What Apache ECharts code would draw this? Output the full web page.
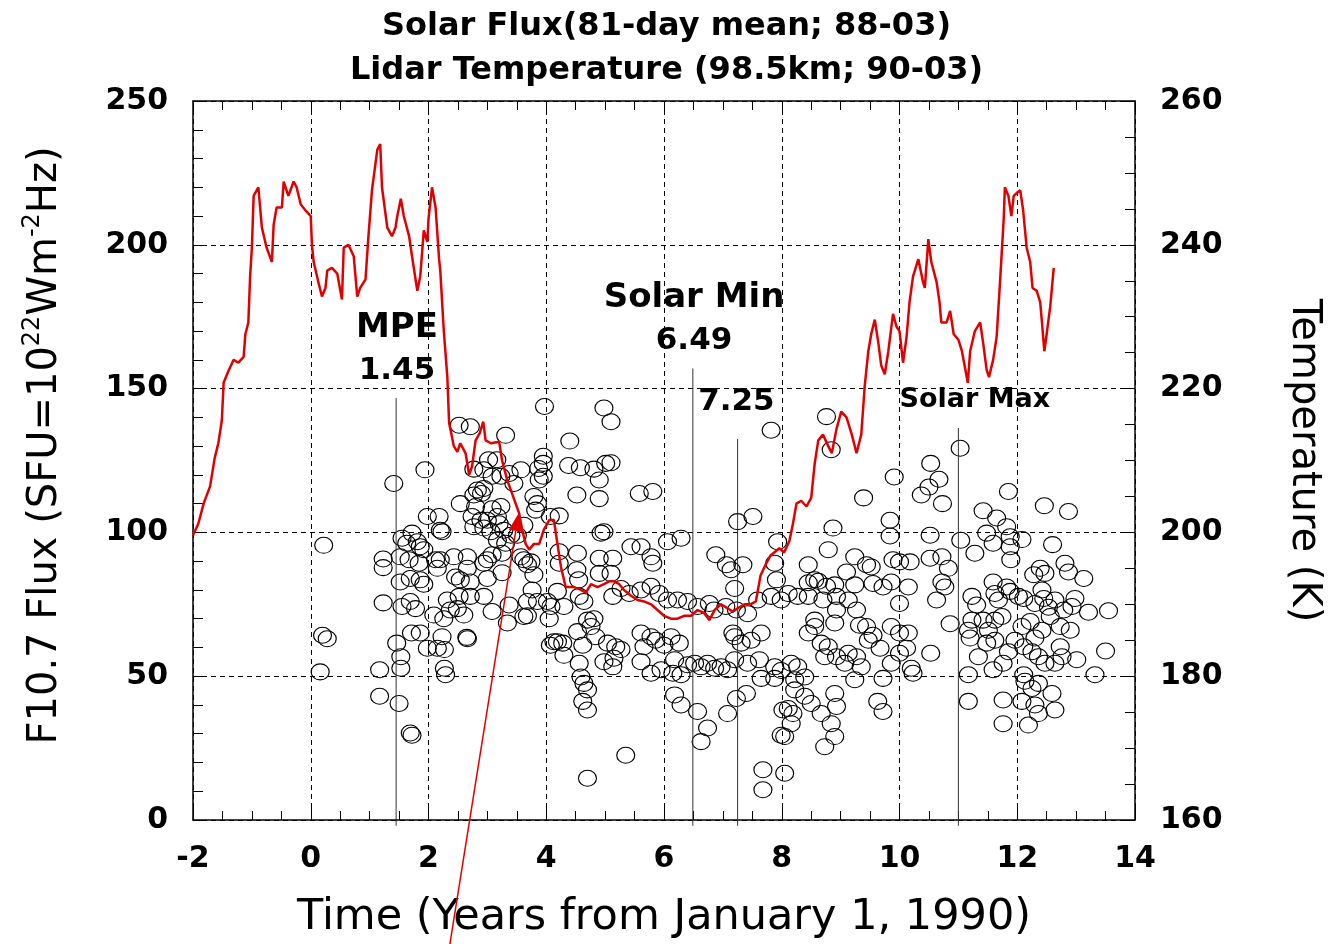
<!DOCTYPE html>
<html>
<head>
<meta charset="utf-8">
<title>Solar Flux and Lidar Temperature</title>
<script src="https://cdn.jsdelivr.net/npm/echarts@6/dist/echarts.min.js"></script>
<style>
  html, body { margin: 0; padding: 0; background: #fff; }
  #chart { width: 1333px; height: 944px; }
</style>
</head>
<body>
<div id="chart"></div>
<script>
// ---- data -------------------------------------------------------------
// F10.7 solar flux, 81-day running mean (years from 1990-01-01, SFU)
const fluxMean = [
  [-2.0,99],[-1.91,103],[-1.82,110],[-1.71,116],[-1.63,126],[-1.57,131],[-1.51,139],[-1.48,152],
  [-1.40,156],[-1.31,160],[-1.23,159],[-1.14,161],[-1.11,169],[-1.06,173],[-1.03,189],[-1.0,199],
  [-0.97,217],[-0.89,220],[-0.83,206],[-0.75,199],[-0.66,194],[-0.63,207],[-0.58,213],[-0.49,213],
  [-0.46,222],[-0.38,217],[-0.29,222],[-0.24,220],[-0.17,214],[-0.09,212],[0.0,210],[0.02,200],
  [0.05,194],[0.13,187],[0.19,182],[0.25,185],[0.28,191],[0.36,192],[0.45,190],[0.53,181],
  [0.56,199],[0.64,200],[0.73,196],[0.79,182],[0.84,185],[0.93,188],[0.98,203],[1.04,219],
  [1.13,233],[1.18,235],[1.21,220],[1.30,206],[1.38,203],[1.44,206],[1.47,210],[1.53,216],
  [1.58,210],[1.67,203],[1.72,196],[1.81,184],[1.86,189],[1.92,205],[1.98,201],[2.0,209],
  [2.06,220],[2.12,213],[2.18,195],[2.20,191],[2.26,170],[2.32,154],[2.35,138],[2.43,130],
  [2.49,128],[2.54,131],[2.63,127.5],[2.69,120],[2.74,123],[2.80,132],[2.87,134.5],[2.93,138.5],
  [2.97,132],[3.06,131],[3.20,131.5],[3.25,125],[3.34,118],[3.42,113.5],[3.54,106.6],[3.59,101],
  [3.65,96],[3.71,94],[3.79,96],[3.88,96],[3.96,101],[4.05,104.3],[4.13,104.3],[4.19,96],
  [4.25,88],[4.33,81],[4.38,81],[4.47,81],[4.59,80],[4.67,79],[4.76,82],[4.87,81],
  [4.98,82],[5.07,83],[5.15,83],[5.24,82],[5.32,80],[5.44,78],[5.55,76.5],[5.66,76],
  [5.78,75],[5.89,73],[6.0,71],[6.12,70],[6.23,70],[6.34,71],[6.46,71],[6.57,73],
  [6.68,72],[6.77,69.5],[6.86,73],[6.97,75],[7.08,73.6],[7.17,72.4],[7.25,73.6],[7.37,75],
  [7.47,75],[7.56,76],[7.64,85],[7.73,89],[7.81,92],[7.96,94.5],[8.04,93],[8.13,97],
  [8.19,103],[8.25,110],[8.33,111],[8.42,109],[8.50,112],[8.56,124],[8.62,132],[8.70,134],
  [8.79,130],[8.85,127.5],[8.93,136],[9.01,142],[9.10,140],[9.19,134],[9.27,127.5],[9.35,134],
  [9.41,151],[9.47,163],[9.52,169],[9.58,174],[9.64,166],[9.69,158],[9.75,155],[9.81,163],
  [9.89,176],[9.95,171.5],[10.0,170],[10.06,159],[10.12,168],[10.17,180],[10.23,189],[10.32,195],
  [10.40,187],[10.43,185],[10.49,202],[10.54,194],[10.63,187],[10.68,180],[10.71,173],[10.80,173],
  [10.86,177],[10.92,169],[11.0,167],[11.06,163],[11.12,156.5],[11.16,152],[11.20,163],[11.28,170],
  [11.37,173],[11.42,166],[11.48,156.5],[11.52,154],[11.59,160],[11.65,168],[11.71,188],[11.77,209],
  [11.79,220],[11.85,217],[11.90,210],[11.94,217],[11.99,218],[12.05,219],[12.10,212],[12.16,199],
  [12.22,194],[12.26,185],[12.33,184],[12.39,180],[12.42,173],[12.46,163],[12.50,169],[12.56,178.5],
  [12.62,192]
];

// Lidar temperature at 98.5 km, nightly means (years from 1990-01-01, K)
const lidarEarly = [
  [0.22,198.2],[0.20,185.7],[0.28,185.2],[0.16,180.6],
  [1.41,206.8],[1.94,208.7],[3.97,217.5],[2.52,214.9],[2.71,214.7],[3.31,213.5],[4.40,212.7],
  [1.23,196.3],[1.23,195.1],[1.55,199.2],[1.72,199.9],[1.63,198.5],[1.81,198.7],[1.86,198.0],
  [1.92,197.6],[1.52,196.6],[1.67,196.2],[1.84,195.7],[1.52,193.1],[1.69,193.6],[1.86,193.4],
  [1.92,192.8],[1.23,190.2],[1.55,189.7],[1.69,190.4],[1.78,189.4],[1.71,186.0],[1.86,186.0],
  [1.46,184.6],[1.53,182.7],[1.53,181.1],[1.17,180.9],[1.17,177.2],[1.50,176.2],[1.69,172.1],
  [1.72,171.8]
];
const lidarMid1 = [
  [1.98,202.2],[2.18,202.2],[2.20,200.3],[2.23,200.1],[2.12,196.2],[2.15,195.0],[2.20,196.2],
  [2.43,196.6],[2.09,188.5],[2.26,188.0],[2.37,189.2],[2.49,189.4],[2.60,188.5],[2.32,190.6],
  [2.52,191.1],[2.71,191.1],[2.23,185.5],[1.98,183.9],[2.15,183.9],[2.27,183.7],[2.65,185.4],
  [2.66,185.2],[2.27,181.1],[2.29,180.2],
  [2.54,204.0],[2.80,203.6],[2.77,205.2],[2.90,205.4],[2.83,205.9],[2.94,206.1],[3.02,210.1],
  [3.16,210.1],[2.77,208.8],[2.94,208.7],[3.08,207.8],[3.23,207.8],[3.37,208.2],[3.57,208.7],
  [3.45,206.8],[3.08,203.3],[3.23,203.6],[2.74,202.2],[2.89,201.7],[3.00,201.7],[3.17,202.2],
  [3.20,201.2],[2.77,200.8],[2.94,200.6],[3.06,200.1],[3.28,200.3],[3.62,201.0],
  [2.66,196.6],[2.66,195.0],[2.94,195.7],[3.00,196.2],[3.08,196.9],[3.25,197.1],[3.17,198.9],
  [3.31,198.5],[3.40,199.6],[3.51,199.6],[2.46,193.8],[2.54,193.4],[2.71,193.1],[3.00,193.6],
  [3.25,194.4],[2.94,191.1],[3.08,189.0],[3.37,189.9],[3.34,187.4],
  [3.57,196.6],[3.62,196.2],[3.68,195.5],[3.74,195.9],[3.79,194.1],[3.76,192.0],[3.85,190.4],
  [3.68,190.4],[3.62,188.3],[3.68,188.4]
];
const lidarMid2 = [
  [3.95,210.6],[3.95,209.6],[3.87,208.9],[3.95,207.8],[3.88,207.3],[4.38,209.3],[4.58,209.0],
  [4.52,205.2],[3.79,205.0],[3.85,204.0],[3.82,203.1],[4.07,202.2],[4.22,202.3],[4.22,197.3],
  [4.22,195.7],[4.53,197.1],[4.52,194.8],[4.55,193.4],[4.02,190.4],[4.05,188.0],[4.08,189.7],
  [4.19,191.8],[4.30,189.7],[4.56,191.1],[4.64,190.4],[4.07,184.3],[4.13,184.8],[4.19,184.8],
  [4.28,184.6],[4.30,182.9],[4.62,184.3],[4.53,186.2],[4.56,181.8],[4.59,179.9],[4.64,179.0],
  [4.62,176.5],[4.70,175.3],[4.70,165.8],[4.70,187.8],[4.70,178.1],
  [4.98,217.3],[5.10,215.4],[4.81,208.8],[5.01,209.6],[5.10,209.7],[4.90,207.3],[4.90,204.7],
  [5.58,205.4],[5.81,205.7],[4.98,200.1],[4.93,199.9],[7.82,214.2],[7.25,201.5],[7.51,202.2],
  [8.76,216.1],[8.84,211.5],[7.93,198.7],[8.87,200.6],[8.79,197.6],
  [4.90,196.4],[5.13,196.4],[4.90,194.3],[5.10,194.3],[5.44,198.0],[5.61,198.0],[5.78,196.6],
  [5.81,195.7],[6.06,198.7],[6.29,199.2],[6.88,196.9],[7.06,195.5],[7.14,194.8],[7.34,195.5],
  [7.20,192.2],[7.88,195.7],[7.91,193.4],[8.11,191.5],[8.45,195.5],[8.56,193.4],[8.62,193.2],
  [8.76,192.5],[8.90,192.7]
];
const lidarMin = [
  [5.13,191.1],[5.27,192.2],[5.41,191.5],[5.61,192.0],[5.78,192.5],[5.92,191.5],[6.06,190.6],
  [6.23,190.6],[6.40,190.4],[6.57,189.7],[6.77,190.1],[6.85,189.2],[7.05,189.7],[7.23,189.2],
  [7.42,188.7],[7.59,190.6],[7.82,191.1],[7.99,190.6],[8.27,191.1],[8.45,193.0],[8.45,191.1],
  [8.70,190.6],[8.93,191.1],[8.93,189.2],
  [4.81,188.0],[4.76,186.9],[4.84,185.5],[5.35,169.0],
  [4.98,182.0],[5.13,181.3],[5.15,182.5],[5.18,184.1],[5.27,183.7],[5.04,184.6],[5.61,186.0],
  [5.78,185.5],[5.66,184.1],[5.86,185.0],[6.00,184.3],[6.12,185.5],[6.26,184.6],[5.61,182.0],
  [5.78,180.4],[5.95,180.9],[6.15,180.4],[6.18,182.3],[6.29,180.2],[6.40,181.6],[6.52,181.8],
  [6.63,181.3],[6.74,181.8],[6.86,181.1],[6.97,181.3],[7.08,180.9],[7.17,186.0],[7.20,185.5],
  [7.31,184.6],[7.48,185.0],[7.65,186.0],[7.20,182.3],[7.42,181.8],[7.62,182.3],[7.88,181.3],
  [7.65,179.7],[7.88,179.7],[7.99,180.8],[8.16,181.8],[8.27,181.3],[8.39,179.9],[8.22,179.5],
  [8.45,186.0],[8.56,187.8],[8.56,186.9],[8.67,184.6],[8.79,184.1],[8.90,187.4],[8.93,182.7],
  [8.73,182.7],
  [6.18,177.4],[6.29,176.0],[6.57,175.1],[6.74,172.8],[6.63,170.9],[7.08,174.8],[7.23,176.9],
  [7.40,177.6],[8.02,175.3],[8.11,175.5],[8.19,174.8],[8.16,173.4],[7.99,171.8],[8.05,171.6],
  [7.68,167.0],[7.68,164.2],[8.05,166.5],[8.73,170.2],[8.84,173.4],[8.93,175.8],[8.22,178.1],
  [8.39,177.2],[8.50,176.2],[8.67,174.8],[8.90,177.6],[8.90,171.6]
];
const lidarLate = [
  [11.03,211.7],[10.53,209.6],[10.67,207.4],[10.50,206.3],[10.37,205.2],[10.73,204.0],[9.91,207.7],
  [9.39,204.8],[9.84,201.7],[9.84,199.5],[10.52,199.6],[11.04,198.9],[11.28,197.1],[11.42,203.0],
  [11.85,205.7],[11.65,202.0],[11.82,200.8],[11.48,199.9],[11.59,198.5],[11.88,199.4],[12.08,199.0],
  [11.88,198.0],[11.89,196.2],[12.46,203.7],[12.87,202.9],[12.60,198.3],[12.81,195.7],[12.87,194.5],
  [13.13,193.6],
  [9.24,196.6],[9.10,194.5],[9.24,192.7],[9.44,195.5],[9.52,195.2],[9.55,192.9],[9.72,192.4],
  [9.86,193.1],[9.89,196.2],[10.00,195.9],[10.18,195.9],[10.15,192.4],[10.52,196.4],[10.72,196.6],
  [10.83,195.0],[10.72,193.1],[10.77,192.4],[10.63,190.6],[10.00,190.1],[9.13,190.6],[9.27,189.2],
  [9.32,187.1],[9.44,186.9],[9.47,185.0],[9.55,185.7],[9.67,183.9],[9.86,186.9],[10.00,186.0],
  [10.15,186.0],[10.12,183.9],[10.00,183.2],[9.86,181.8],[9.72,179.7],[10.20,181.1],[10.23,180.4],
  [9.27,182.7],[9.13,183.2],[9.07,181.8],[9.35,181.3],[9.24,179.5],[10.53,183.2],[10.86,187.3],
  [9.63,176.5],[9.72,175.1],[11.17,180.2],[11.17,176.5],
  [11.23,191.1],[11.31,189.9],[11.23,187.8],[11.17,186.4],[11.20,185.3],[11.34,182.7],[11.42,187.8],
  [11.51,186.4],[11.48,184.6],[11.62,185.0],[11.62,187.8],[11.74,188.3],[11.68,190.6],[11.59,193.1],
  [11.62,191.5],[11.82,192.4],[11.88,191.8],[12.02,191.1],[12.11,190.8],[12.28,194.1],[12.39,195.0],
  [12.47,194.3],[12.42,192.0],[12.45,190.8],[12.53,189.6],[12.64,190.6],[12.79,189.2],[12.93,189.7],
  [12.98,190.8],[13.21,188.9],[13.55,189.1],[12.30,190.1],[12.08,186.9],[12.22,187.6],[12.30,185.3],
  [12.42,186.4],[12.56,188.3],[12.73,186.9],[12.90,186.4],[11.96,185.0],[12.11,184.1],[12.25,183.4],
  [12.36,182.7],[12.47,181.8],[12.64,181.8],[12.76,182.7],[13.01,182.3],[12.73,184.1],[11.76,181.8],
  [11.59,180.9],[11.85,183.4],[12.11,180.2],[12.13,179.3],[12.36,179.0],[12.25,178.3],[12.08,176.5],
  [12.30,176.0],[12.36,174.8],[12.59,177.6],[12.64,175.3],[11.76,176.7],[11.76,173.4],[12.19,173.2],
  [13.32,180.2],[13.50,183.5]
];
const lidarTemps = [].concat(lidarEarly, lidarMid1, lidarMid2, lidarMin, lidarLate);

// event markers: year, top of the drop line (flux units)
const eventYears = [1.45, 6.49, 7.25, 11.0];
const eventTops  = [146.7, 157.0, 132.5, 136.3];
const eventFoot  = -2;

// text notes: [year, flux] anchor, word, number
const noteWords   = ['MPE', 'Solar Min', '', 'Solar Max'];
const noteNumbers = ['1.45', '6.49', '7.25', ''];
const noteAnchors = [[1.465, 163.6], [6.51, 174.0], [7.23, 145.3], [11.28, 146.0]];

// red pointer arrow: from (year, flux) to (year, flux)
const pointerFrom = [2.31, -50];
const pointerTo   = [3.53, 106.7];

// ---- chart ------------------------------------------------------------
const FONT = 'DejaVu Sans';
const RED = '#e00000';
const chart = echarts.init(document.getElementById('chart'), null, { renderer: 'canvas' });

const tickLabel = { fontFamily: FONT, fontWeight: 'bold', fontSize: 30, color: '#000' };

const option = {
  animation: false,
  backgroundColor: '#fff',
  textStyle: { fontFamily: FONT },
  title: {
    text: 'Solar Flux(81-day mean; 88-03)\nLidar Temperature (98.5km; 90-03)',
    left: 'center',
    top: 0,
    textStyle: { fontFamily: FONT, fontWeight: 'bold', fontSize: 32, lineHeight: 44, color: '#000' }
  },
  grid: { left: 193, right: 198, top: 101, bottom: 124, containLabel: false },
  xAxis: [
    {
      type: 'value', min: -2, max: 14, interval: 2, position: 'bottom',
      axisLine: { show: true, onZero: false, lineStyle: { color: '#000', width: 1.5 } },
      axisTick: { show: true, inside: true, length: 15, lineStyle: { color: '#000', width: 1 } },
      minorTick: { show: true, splitNumber: 4, length: 9, lineStyle: { color: '#000', width: 1 } },
      splitLine: { show: true, lineStyle: { color: '#000', width: 1, type: [5, 4] } },
      axisLabel: Object.assign({ margin: 24 }, tickLabel),
      name: 'Time (Years from January 1, 1990)',
      nameLocation: 'middle',
      nameGap: 76,
      nameTextStyle: { fontFamily: FONT, fontSize: 43, color: '#000' }
    },
    {
      type: 'value', min: -2, max: 14, interval: 2, position: 'top',
      axisLine: { show: true, onZero: false, lineStyle: { color: '#000', width: 1.5 } },
      axisTick: { show: true, inside: true, length: 9, lineStyle: { color: '#000', width: 1 } },
      minorTick: { show: true, splitNumber: 4, length: 9, lineStyle: { color: '#000', width: 1 } },
      splitLine: { show: false },
      axisLabel: { show: false }
    }
  ],
  yAxis: [
    {
      type: 'value', min: 0, max: 250, interval: 50, position: 'left',
      axisLine: { show: true, onZero: false, lineStyle: { color: '#000', width: 1.5 } },
      axisTick: { show: true, inside: true, length: 10, lineStyle: { color: '#000', width: 1 } },
      minorTick: { show: true, splitNumber: 5, length: 10, lineStyle: { color: '#000', width: 1 } },
      splitLine: { show: true, lineStyle: { color: '#000', width: 1, type: [5, 4] } },
      axisLabel: Object.assign({ margin: 25 }, tickLabel),
      name: '{a|F10.7 Flux (SFU=10}{s|22}{a|Wm}{s|-2}{a|Hz)}',
      nameLocation: 'middle',
      nameRotate: 90,
      nameGap: 122,
      nameTextStyle: {
        padding: [0, 0, 0, 30],
        rich: {
          a: { fontFamily: FONT, fontSize: 40, color: '#000', lineHeight: 50 },
          s: { fontFamily: FONT, fontSize: 24, color: '#000', lineHeight: 20, verticalAlign: 'top' }
        }
      }
    },
    {
      type: 'value', min: 160, max: 260, interval: 20, position: 'right',
      axisLine: { show: true, onZero: false, lineStyle: { color: '#000', width: 1.5 } },
      axisTick: { show: true, inside: true, length: 10, lineStyle: { color: '#000', width: 1 } },
      minorTick: { show: true, splitNumber: 4, length: 10, lineStyle: { color: '#000', width: 1 } },
      splitLine: { show: false },
      axisLabel: Object.assign({ margin: 25 }, tickLabel),
      name: 'Temperature (K)',
      nameLocation: 'middle',
      nameRotate: -90,
      nameGap: 148,
      nameTextStyle: { fontFamily: FONT, fontSize: 40, color: '#000' }
    }
  ],
  series: [
    {
      name: 'Lidar temperature',
      type: 'scatter',
      xAxisIndex: 0, yAxisIndex: 1,
      data: lidarTemps,
      symbol: 'circle',
      symbolSize: [18, 16],
      itemStyle: { color: 'rgba(0,0,0,0)', borderColor: '#000', borderWidth: 1.1, opacity: 1 },
      z: 2,
      silent: true
    },
    {
      name: 'Event markers',
      type: 'custom',
      xAxisIndex: 0, yAxisIndex: 0,
      data: eventYears.map((x, i) => [x, eventTops[i]]),
      encode: { x: 0, y: 1 },
      clip: false,
      z: 3,
      silent: true,
      renderItem: function (params, api) {
        const top = api.coord([api.value(0), api.value(1)]);
        const foot = api.coord([api.value(0), eventFoot]);
        return {
          type: 'line',
          shape: { x1: top[0], y1: top[1], x2: foot[0], y2: foot[1] },
          style: { stroke: '#333', lineWidth: 1 }
        };
      }
    },
    {
      name: 'F10.7 81-day mean',
      type: 'line',
      xAxisIndex: 0, yAxisIndex: 0,
      data: fluxMean,
      showSymbol: false,
      symbol: 'none',
      lineStyle: { color: RED, width: 2.5 },
      z: 5,
      silent: true
    },
    {
      name: 'Pointer',
      type: 'custom',
      xAxisIndex: 0, yAxisIndex: 0,
      data: [[pointerFrom[0], pointerFrom[1], pointerTo[0], pointerTo[1]]],
      encode: { x: [0, 2], y: [1, 3] },
      clip: false,
      z: 6,
      silent: true,
      renderItem: function (params, api) {
        const a = api.coord([api.value(0), api.value(1)]);
        const b = api.coord([api.value(2), api.value(3)]);
        const dx = b[0] - a[0], dy = b[1] - a[1];
        const len = Math.sqrt(dx * dx + dy * dy);
        const ux = dx / len, uy = dy / len;
        const headL = 18, headW = 7;
        const bx = b[0] - ux * headL, by = b[1] - uy * headL;
        return {
          type: 'group',
          children: [
            { type: 'line', shape: { x1: a[0], y1: a[1], x2: bx, y2: by },
              style: { stroke: RED, lineWidth: 1.5 } },
            { type: 'polygon',
              shape: { points: [[b[0], b[1]], [bx - uy * headW, by + ux * headW], [bx + uy * headW, by - ux * headW]] },
              style: { fill: RED } }
          ]
        };
      }
    },
    {
      name: 'Notes',
      type: 'custom',
      xAxisIndex: 0, yAxisIndex: 0,
      data: noteAnchors.map((p, i) => [p[0], p[1], i]),
      encode: { x: 0, y: 1 },
      clip: false,
      silent: true,
      z: 7,
      renderItem: function (params, api) {
        const i = api.value(2);
        const p = api.coord([api.value(0), api.value(1)]);
        const parts = [];
        if (noteWords[i]) parts.push((i === 3 ? '{m|' : '{w|') + noteWords[i] + '}');
        if (noteNumbers[i]) parts.push('{n|' + noteNumbers[i] + '}');
        return {
          type: 'text',
          x: p[0], y: p[1],
          style: {
            text: parts.join('\n'),
            align: 'center',
            verticalAlign: 'middle',
            fill: '#000',
            rich: {
              w: { fontFamily: FONT, fontWeight: 'bold', fontSize: 34, lineHeight: 43, fill: '#000' },
              n: { fontFamily: FONT, fontWeight: 'bold', fontSize: 31, lineHeight: 43, fill: '#000' },
              m: { fontFamily: FONT, fontWeight: 'bold', fontSize: 27, lineHeight: 34, fill: '#000' }
            }
          }
        };
      }
    }
  ]
};

chart.setOption(option);
</script>
</body>
</html>
